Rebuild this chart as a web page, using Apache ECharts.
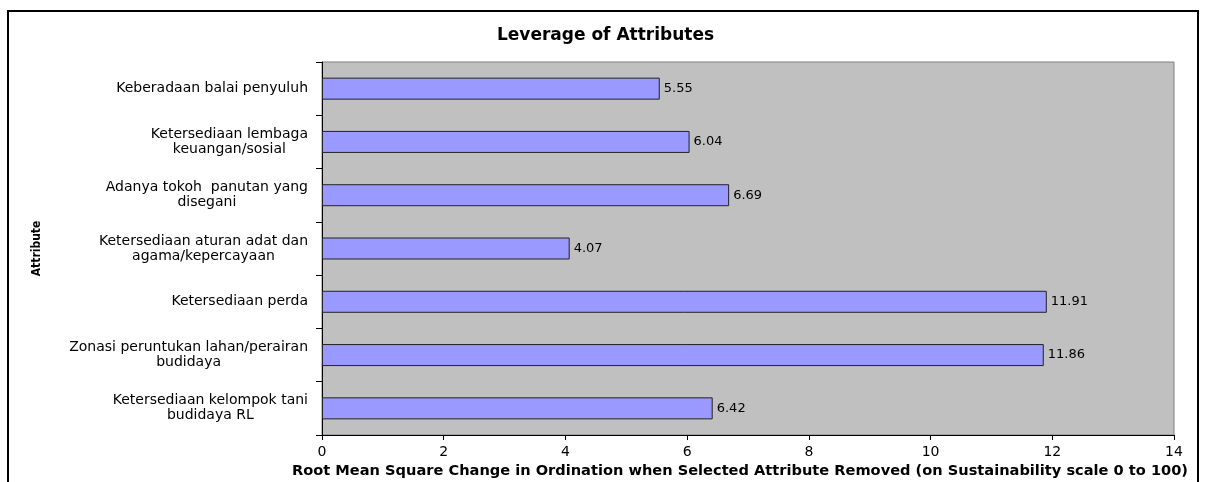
<!DOCTYPE html>
<html>
<head>
<meta charset="utf-8">
<script src="https://cdn.jsdelivr.net/npm/echarts@6/dist/echarts.min.js"></script>
<style>
html,body{margin:0;padding:0;background:#fff;}
#main{width:1211px;height:482px;}
</style>
</head>
<body>
<div id="main"></div>
<script>
// data (top to bottom)
var attributes=[
    "Keberadaan balai penyuluh",
    "Ketersediaan lembaga\nkeuangan/sosial",
    "Adanya tokoh  panutan yang\ndisegani",
    "Ketersediaan aturan adat dan\nagama/kepercayaan",
    "Ketersediaan perda",
    "Zonasi peruntukan lahan/perairan\nbudidaya",
    "Ketersediaan kelompok tani\nbudidaya RL"
];
var leverage=[5.55,6.04,6.69,4.07,11.91,11.86,6.42];
var xTicks=[0,14,2];   // min, max, step

window.onload=function(){
    var myChart=echarts.init(document.getElementById('main'));

    var option={
        animation:false,
        backgroundColor:'#fff',
        textStyle:{fontFamily:'DejaVu Sans'},
        title:{
            text:'Leverage of Attributes',
            left:'center',
            top:22,
            textStyle:{fontFamily:'DejaVu Sans',fontWeight:'bold',fontSize:17,color:'#000'}
        },
        graphic:[{
            type:'rect',
            shape:{x:8,y:11,width:1190,height:480},
            style:{fill:'none',stroke:'#000',lineWidth:2},
            silent:true
        }],
        grid:{
            left:322,
            right:37,
            top:62,
            bottom:47,
            outerBoundsMode:'none',
            containLabel:false,
            show:true,
            backgroundColor:'#C0C0C0',
            borderColor:'#808080',
            borderWidth:1
        },
        xAxis:{
            type:'value',
            min:xTicks[0],
            max:xTicks[1],
            interval:xTicks[2],
            name:'Root Mean Square Change in Ordination when Selected Attribute Removed (on Sustainability scale 0 to 100)',
            nameLocation:'middle',
            nameGap:28,
            nameTextStyle:{fontFamily:'DejaVu Sans',fontWeight:'bold',fontSize:14.6,color:'#000',padding:[0,16,0,0]},
            axisLine:{show:true,lineStyle:{color:'#000',width:1}},
            axisTick:{show:true,length:5,lineStyle:{color:'#000'}},
            axisLabel:{color:'#000',fontSize:14,margin:10},
            splitLine:{show:false}
        },
        yAxis:{
            type:'category',
            data:attributes,
            inverse:true,
            name:'Attribute',
            nameLocation:'middle',
            nameRotate:90,
            nameGap:279,
            nameTextStyle:{fontFamily:'DejaVu Sans Condensed',fontWeight:'bold',fontSize:12,color:'#000'},
            axisLine:{show:true,lineStyle:{color:'#000',width:1}},
            axisTick:{show:true,length:6,lineStyle:{color:'#000'}},
            axisLabel:{
                color:'#000',
                fontSize:14,
                margin:14,
                formatter:function(v){
                    return v.split('\n').map(function(s){return '{c|'+s+'}';}).join('\n');
                },
                rich:{c:{align:'center',fontSize:14,color:'#000',lineHeight:15,fontFamily:'DejaVu Sans'}}
            },
            splitLine:{show:false}
        },
        series:[{
            type:'bar',
            data:leverage,
            barWidth:22,
            itemStyle:{color:'#9999FF',borderColor:'#222',borderWidth:1},
            label:{
                show:true,
                position:'right',
                distance:4,
                color:'#000',
                fontSize:13,
                fontFamily:'DejaVu Sans'
            }
        }]
    };

    myChart.setOption(option);
}
</script>
</body>
</html>
